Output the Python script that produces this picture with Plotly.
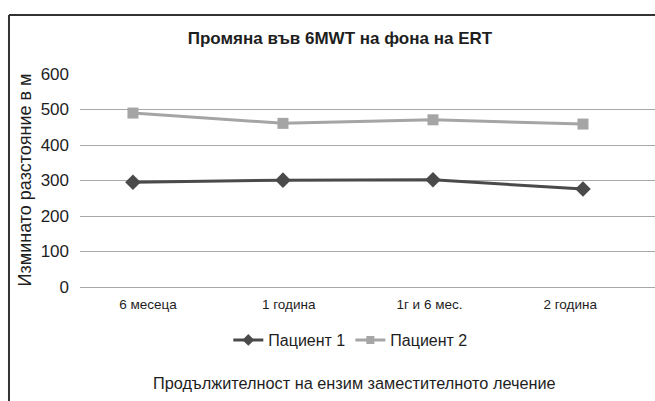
import plotly.graph_objects as go

# Treatment duration checkpoints and 6-minute walk distances (m)
periods = ["6 месеца", "1 година", "1г и 6 мес.", "2 година"]
patient1 = [295, 301, 302, 276]
patient2 = [490, 461, 471, 459]
y_ticks = [0, 100, 200, 300, 400, 500, 600]
series_names = ["Пациент 1", "Пациент 2"]

FONT = "Liberation Sans, Arial, sans-serif"
TEXT = "#1e1e1e"
DARK = "#4a4a4a"
LIGHT = "#a5a5a5"
GRID = "#a8a8a8"

styles = [
    dict(color=DARK, symbol="diamond", size=12, legend_size=9),
    dict(color=LIGHT, symbol="square", size=11, legend_size=8),
]

fig = go.Figure()
for name, values, st in zip(series_names, [patient1, patient2], styles):
    fig.add_trace(go.Scatter(
        x=periods, y=values, name=name, mode="lines+markers",
        line=dict(color=st["color"], width=3),
        marker=dict(symbol=st["symbol"], size=st["size"], color=st["color"]),
        showlegend=False,
    ))
# legend entries with compact markers
for name, st in zip(series_names, styles):
    fig.add_trace(go.Scatter(
        x=[None], y=[None], name=name, mode="lines+markers",
        line=dict(color=st["color"], width=3),
        marker=dict(symbol=st["symbol"], size=st["legend_size"], color=st["color"]),
        hoverinfo="skip",
    ))
# carrier trace for the label axis
fig.add_trace(go.Scatter(x=[], y=[], xaxis="x2", showlegend=False, hoverinfo="skip"))

fig.update_layout(
    width=655, height=401,
    margin=dict(l=80, r=0, t=74, b=114),
    paper_bgcolor="white", plot_bgcolor="white",
    font=dict(family=FONT, color=TEXT),
    title=dict(
        text="<b>Промяна във 6MWT на фона на ERT</b>",
        font=dict(family=FONT, size=17, color=TEXT),
        x=0.519, xanchor="center", xref="container",
        y=1 - 38 / 401, yanchor="middle",
    ),
    xaxis=dict(
        type="category", range=[-0.353, 3.48],
        showticklabels=False, showgrid=False, zeroline=False, showline=False,
        ticks="",
    ),
    xaxis2=dict(
        overlaying="x", side="bottom", anchor="y",
        range=[-0.483, 3.603],
        tickvals=list(range(len(periods))), ticktext=periods,
        tickfont=dict(family=FONT, size=13.5, color=TEXT),
        showgrid=False, zeroline=False, showline=False, ticks="",
        ticklabelstandoff=7,
    ),
    yaxis=dict(
        range=[0, 600], tickvals=y_ticks,
        tickfont=dict(family=FONT, size=17, color=TEXT),
        showgrid=True, gridcolor=GRID, gridwidth=1.4,
        zeroline=True, zerolinecolor=GRID, zerolinewidth=1.4,
        showline=False, ticks="", ticklabelstandoff=10,
    ),
    legend=dict(
        orientation="h", x=0.471, xanchor="center",
        y=-0.249, yanchor="middle",
        font=dict(family=FONT, size=16, color=TEXT),
        itemwidth=30, bgcolor="rgba(0,0,0,0)",
    ),
    annotations=[
        dict(
            text="Изминато разстояние в м", textangle=-90,
            xref="paper", yref="paper", x=-0.0957, y=0.505,
            xanchor="center", yanchor="middle", showarrow=False,
            font=dict(family=FONT, size=18, color=TEXT),
        ),
        dict(
            text="Продължителност на ензим заместителното лечение",
            xref="paper", yref="paper", x=0.477, y=-0.451,
            xanchor="center", yanchor="middle", showarrow=False,
            font=dict(family=FONT, size=16.3, color=TEXT),
        ),
    ],
    shapes=[
        dict(type="line", xref="paper", yref="paper",
             x0=-0.1235, x1=-0.1235, y0=-0.6, y1=1.277,
             line=dict(color="#333333", width=2)),
        dict(type="line", xref="paper", yref="paper",
             x0=-0.1235, x1=1.2, y0=1.277, y1=1.277,
             line=dict(color="#333333", width=2)),
    ],
)

fig.write_html("out.html")
